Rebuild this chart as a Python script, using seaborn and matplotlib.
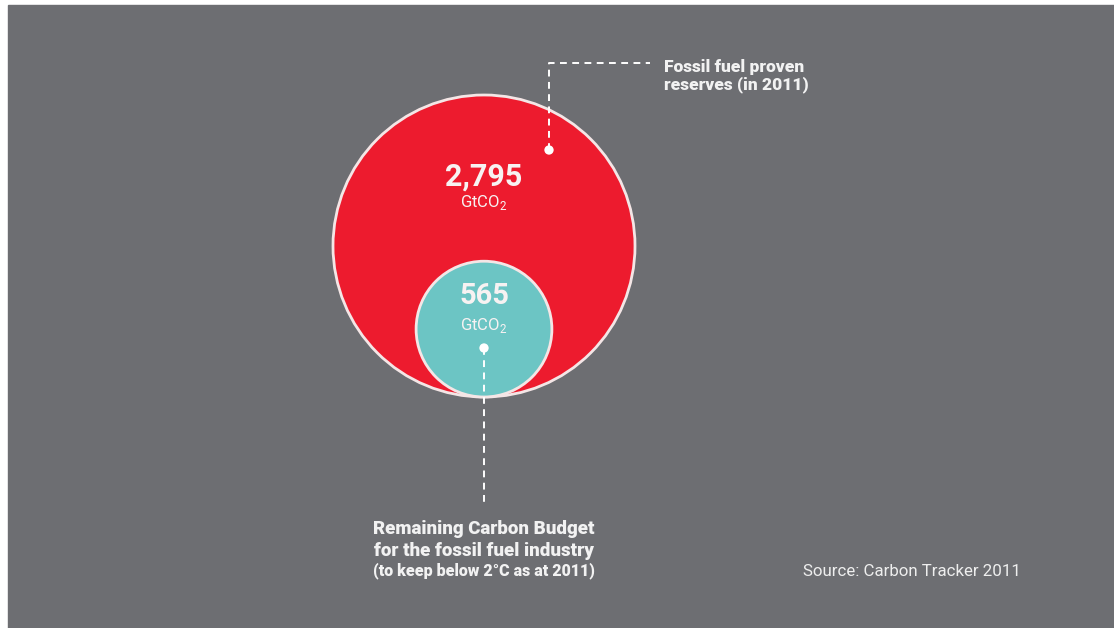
import numpy as np
import matplotlib
matplotlib.use("Agg")
import matplotlib.pyplot as plt
from matplotlib.patches import Circle, Rectangle
import seaborn as sns
import pandas as pd

# dados
rotulos = ["Fossil fuel proven reserves (in 2011)", "Remaining Carbon Budget"]
valores = [2795, 565]          # GtCO2
valores_txt = ["2,795", "565"]
cores = ["#ed1b2e", "#6cc5c4"]
unidade = "GtCO$_2$"
texto_reservas = "Fossil fuel proven\nreserves (in 2011)"
texto_budget = ["Remaining Carbon Budget", "for the fossil fuel industry"]
texto_budget_nota = "(to keep below 2\u00b0C as at 2011)"
fonte = "Source: Carbon Tracker 2011"

sns.set_theme(style="white")
plt.rcParams["font.family"] = ["Roboto", "DejaVu Sans"]
plt.rcParams["mathtext.fontset"] = "custom"
plt.rcParams["mathtext.rm"] = "Roboto"
plt.rcParams["mathtext.bf"] = "Roboto:bold"

W, H = 1114, 628
fig = plt.figure(figsize=(W / 100, H / 100), dpi=100)
ax = fig.add_axes([0, 0, 1, 1])

cinza = "#6d6e72"
ax.add_patch(Rectangle((8, 5), W - 8, H - 5, color=cinza, zorder=0))

# circulos proporcionais a area, tangentes em baixo
cx, base = 484, 397
escala = 151 / np.sqrt(valores[0])
raios = [escala * np.sqrt(v) for v in valores]
centros = []
for r, c in zip(raios, cores):
    cy = base - r
    centros.append(cy)
    ax.add_patch(Circle((cx, cy), r, facecolor=c, edgecolor="#f4e6e6", lw=2, zorder=2))

# numeros
branco = "#f7f2f2"
ax.text(cx, centros[0] - 69, valores_txt[0], ha="center", va="center", fontsize=22,
        fontweight="bold", color=branco, zorder=5)
ax.text(cx, centros[0] - 43, unidade, ha="center", va="center", fontsize=12,
        color=branco, zorder=5)
ax.text(cx, centros[1] - 33, valores_txt[1], ha="center", va="center", fontsize=21,
        fontweight="bold", color=branco, zorder=5)
ax.text(cx, centros[1] - 4, unidade, ha="center", va="center", fontsize=12,
        color=branco, zorder=5)

# linhas tracejadas de chamada
traco = dict(color="white", lw=1.4, dashes=(3.5, 2.8), zorder=4)
ax.plot([549, 549, 650], [150, 63, 63], **traco)
ax.plot([cx, cx], [348, 507], **traco)

pontos = pd.DataFrame({"x": [549, cx], "y": [150, 348]})
sns.scatterplot(data=pontos, x="x", y="y", ax=ax, s=45, color="white",
                edgecolor="none", zorder=6, legend=False)
ax.set_xlim(0, W)
ax.set_ylim(H, 0)
ax.axis("off")

ax.text(664, 76, texto_reservas, ha="left", va="center", fontsize=12.5,
        fontweight="black", color="#f2f2f2", linespacing=1.15, zorder=5)

ax.text(cx, 529, texto_budget[0], ha="center", va="center", fontsize=13.5,
        fontweight="black", color="#f2f2f2", zorder=5)
ax.text(cx, 551, texto_budget[1], ha="center", va="center", fontsize=13.5,
        fontweight="black", color="#f2f2f2", zorder=5)
ax.text(cx, 571, texto_budget_nota, ha="center", va="center", fontsize=11.5,
        fontweight="black", color="#f2f2f2", zorder=5)

ax.text(803, 571, fonte, ha="left", va="center", fontsize=12.2, color="#eeeeee", zorder=5)

fig.savefig("out.png", dpi=100, facecolor="white")
